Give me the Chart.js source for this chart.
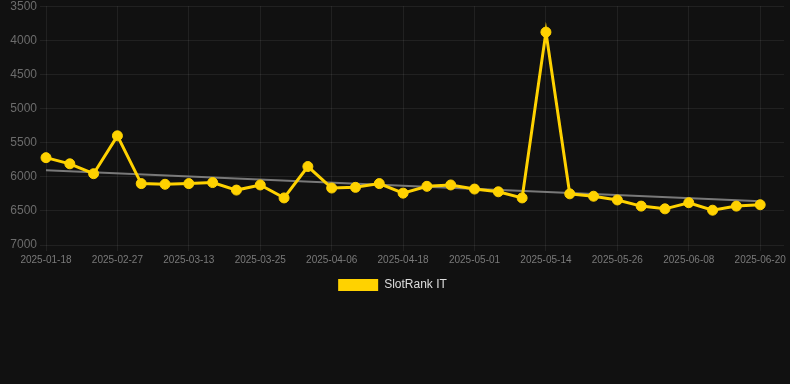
<!DOCTYPE html>
<html>
<head>
<meta charset="utf-8">
<script src="https://cdn.jsdelivr.net/npm/chart.js@4/dist/chart.umd.min.js"></script>
<style>
  html, body { margin: 0; padding: 0; background: #111111; overflow: hidden; }
  #wrap { width: 790px; height: 305px; position: relative; margin-top: -4px; }
</style>
</head>
<body>
<div id="wrap"><canvas id="c"></canvas></div>
<script>
const categories = [
  "2025-01-18","2025-01-31","2025-02-13","2025-02-27","2025-03-04","2025-03-08",
  "2025-03-13","2025-03-17","2025-03-21","2025-03-25","2025-03-29","2025-04-02",
  "2025-04-06","2025-04-10","2025-04-14","2025-04-18","2025-04-22","2025-04-26",
  "2025-05-01","2025-05-05","2025-05-09","2025-05-14","2025-05-18","2025-05-22",
  "2025-05-26","2025-05-30","2025-06-03","2025-06-08","2025-06-12","2025-06-16",
  "2025-06-20","2025-06-24"
];
const rankValues = [
  5720, 5810, 5955, 5400, 6100, 6110, 6100, 6085, 6195, 6120,
  6310, 5850, 6165, 6155, 6100, 6240, 6140, 6120, 6180, 6220,
  6310, 3880, 6250, 6285, 6340, 6430, 6470, 6380, 6490, 6430,
  6410, null
];
const trendValues = [
  5905, null, null, null, null, null, null, null, null, null,
  null, null, null, null, null, null, null, null, null, null,
  null, null, null, null, null, null, null, null, null, null,
  6360, null
];
const yTicks = [3500, 4000, 4500, 5000, 5500, 6000, 6500, 7000];
const seriesName = "SlotRank IT";

const yellow = "rgb(255,210,0)";
const gridColor = "rgba(255,255,255,0.07)";

new Chart(document.getElementById("c"), {
  type: "line",
  data: {
    labels: categories,
    datasets: [
      {
        label: seriesName,
        data: rankValues,
        borderColor: yellow,
        backgroundColor: yellow,
        borderWidth: 3,
        pointRadius: 5,
        pointHoverRadius: 5,
        pointBackgroundColor: yellow,
        pointBorderColor: yellow,
        pointBorderWidth: 1,
        tension: 0,
        order: 1
      },
      {
        label: "trend",
        data: trendValues,
        borderColor: "rgba(140,140,140,0.85)",
        backgroundColor: "rgba(140,140,140,0.85)",
        borderWidth: 2,
        pointRadius: 0,
        spanGaps: true,
        tension: 0,
        order: 2
      }
    ]
  },
  options: {
    responsive: true,
    maintainAspectRatio: false,
    animation: false,
    layout: { padding: { left: 0, right: 5, top: 0, bottom: 0 } },
    plugins: {
      legend: {
        position: "bottom",
        labels: {
          color: "#dddddd",
          font: { family: "Liberation Sans, Arial, sans-serif", size: 12 },
          boxWidth: 40,
          boxHeight: 12,
          filter: (item) => item.text === seriesName,
          generateLabels: (chart) => {
            const items = Chart.defaults.plugins.legend.labels.generateLabels(chart);
            items.forEach(it => { it.lineWidth = 0; it.strokeStyle = "transparent"; });
            return items;
          }
        }
      },
      tooltip: { enabled: false }
    },
    scales: {
      x: {
        type: "category",
        grid: {
          color: (ctx) => (ctx.index % 3 === 0 && ctx.index <= 30) ? gridColor : "transparent",
          tickLength: 6
        },
        border: { display: false },
        ticks: {
          autoSkip: false,
          maxRotation: 0,
          minRotation: 0,
          color: "#7a7a7a",
          font: { family: "Liberation Sans, Arial, sans-serif", size: 10 },
          callback: function (v, i) {
            return (i % 3 === 0 && i <= 30) ? categories[i] : "";
          }
        }
      },
      y: {
        reverse: true,
        min: 3500,
        max: 7000,
        afterBuildTicks: (scale) => { scale.ticks = yTicks.map(v => ({ value: v })); },
        afterFit: (scale) => { scale.width = 46; },
        grid: { color: gridColor, tickLength: 6 },
        border: { display: false },
        ticks: {
          color: "#6c6c6c",
          font: { family: "Liberation Sans, Arial, sans-serif", size: 12 },
          padding: 3,
          callback: (v) => String(v)
        }
      }
    }
  }
});
</script>
</body>
</html>
